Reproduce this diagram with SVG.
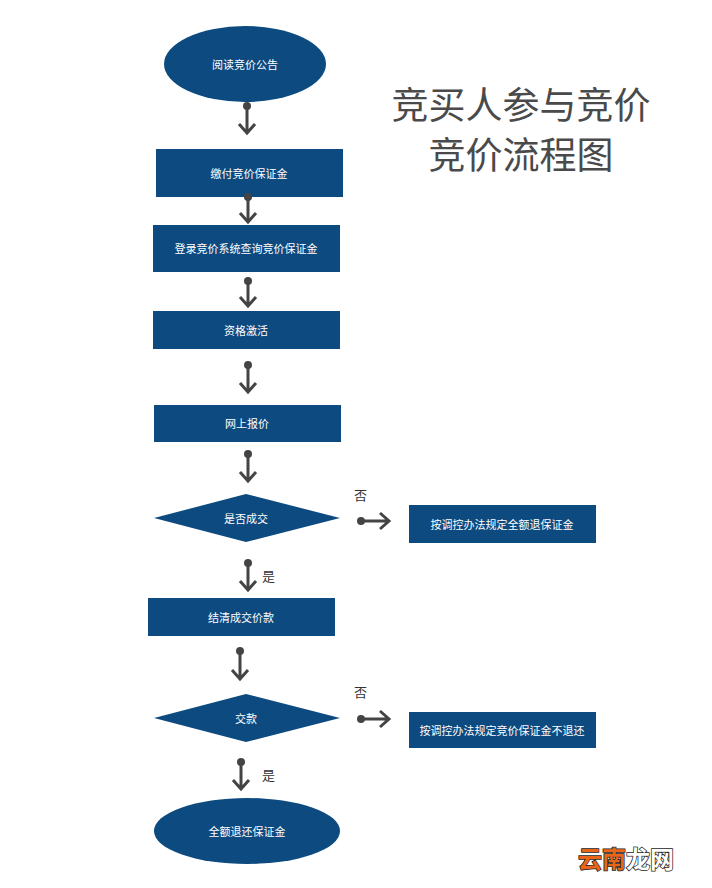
<svg xmlns="http://www.w3.org/2000/svg" width="712" height="888" viewBox="0 0 712 888">
<style>
.n{fill:#0c4a7f}
.t{fill:#fff;font-family:"Noto Sans CJK SC",sans-serif;font-size:11px;text-anchor:middle;dominant-baseline:central}
.c{stroke:#444;stroke-width:3;fill:none}
.d{fill:#444}
.l{fill:#333;font-family:"Noto Sans CJK SC",sans-serif;font-size:13px}
.h{fill:#4a4a4a;font-family:"Noto Sans CJK SC",sans-serif;font-size:37px;text-anchor:middle}
</style>
<rect width="712" height="888" fill="#fff"/>
<text class="h" x="521" y="119">竞买人参与竞价</text>
<text class="h" x="521" y="169">竞价流程图</text>
<g id="n1"><ellipse class="n" cx="245" cy="64" rx="81" ry="38"/><text class="t" x="245" y="64">阅读竞价公告</text></g>
<g id="n2"><rect class="n" x="156" y="149" width="187" height="48"/><text class="t" x="249" y="173">缴付竞价保证金</text></g>
<g id="n3"><rect class="n" x="153" y="225" width="187" height="47"/><text class="t" x="246" y="248">登录竞价系统查询竞价保证金</text></g>
<g id="n4"><rect class="n" x="153" y="311" width="187" height="38"/><text class="t" x="246" y="330">资格激活</text></g>
<g id="n5"><rect class="n" x="154" y="405" width="187" height="37"/><text class="t" x="247" y="423">网上报价</text></g>
<g id="n6"><polygon class="n" points="154,518 246,494 340,518 246,542"/><text class="t" x="246" y="518">是否成交</text></g>
<g id="n7"><rect class="n" x="409" y="505" width="187" height="38"/><text class="t" x="502" y="524">按调控办法规定全额退保证金</text></g>
<g id="n8"><rect class="n" x="148" y="598" width="187" height="38"/><text class="t" x="241" y="617">结清成交价款</text></g>
<g id="n9"><polygon class="n" points="154,718 246,694 340,718 246,742"/><text class="t" x="246" y="718">交款</text></g>
<g id="n10"><rect class="n" x="409" y="712" width="187" height="36"/><text class="t" x="502" y="730">按调控办法规定竞价保证金不退还</text></g>
<g id="n11"><ellipse class="n" cx="247" cy="831" rx="93" ry="33"/><text class="t" x="247" y="831">全额退还保证金</text></g>
<g id="connectors">
<g><circle class="d" cx="247" cy="106" r="4"/><path class="c" d="M247 106V133M239 124l8 9 8-9"/></g>
<g><circle class="d" cx="248" cy="197" r="4"/><path class="c" d="M248 197V222M240 213l8 9 8-9"/></g>
<g><circle class="d" cx="248" cy="281" r="4"/><path class="c" d="M248 281V306M240 297l8 9 8-9"/></g>
<g><circle class="d" cx="248" cy="365" r="4"/><path class="c" d="M248 365V392M240 383l8 9 8-9"/></g>
<g><circle class="d" cx="248" cy="454" r="4"/><path class="c" d="M248 454V481M240 472l8 9 8-9"/></g>
<g><circle class="d" cx="248" cy="563" r="4"/><path class="c" d="M248 563V590M240 581l8 9 8-9"/></g>
<g><circle class="d" cx="240" cy="651" r="4"/><path class="c" d="M240 651V679M232 670l8 9 8-9"/></g>
<g><circle class="d" cx="241" cy="762" r="4"/><path class="c" d="M241 762V789M233 780l8 9 8-9"/></g>
<g><circle class="d" cx="361" cy="521" r="4"/><path class="c" d="M361 521H389M380 513l9 8-9 8"/></g>
<g><circle class="d" cx="361" cy="719" r="4"/><path class="c" d="M361 719H389M380 711l9 8-9 8"/></g>
<text class="l" x="354" y="500">否</text>
<text class="l" x="262" y="581">是</text>
<text class="l" x="354" y="697">否</text>
<text class="l" x="262" y="780">是</text>
</g>
<text x="578" y="868" font-family="Noto Sans CJK SC,sans-serif" font-size="24" font-weight="bold" stroke="#222" stroke-width="1.5" paint-order="stroke"><tspan fill="#e8651a">云南</tspan><tspan fill="#fff">龙网</tspan></text>
</svg>
